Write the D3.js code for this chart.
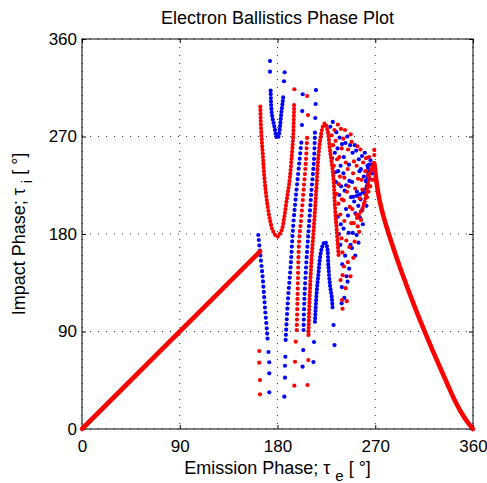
<!DOCTYPE html>
<html>
<head>
<meta charset="utf-8">
<script src="https://cdn.jsdelivr.net/npm/d3@7"></script>
<style>
  body { margin: 0; background: #fff; }
  text { font-family: "Liberation Sans", Arial, Helvetica, sans-serif; }
</style>
</head>
<body>
<div id="vis"></div>
<script>
// tick values (degrees) on both axes
let ticks = [0, 90, 180, 270, 360]

// dense red runs: [emission phase, impact phase]
let redRamp = [[0, 0], [164, 164]]
let redTail = [[269.1, 245.3], [270.3, 234.5], [271.8, 223.5], [274, 211], [277, 198.5], [282, 181.5],
  [288.2, 162.5], [294.3, 145], [300.4, 128.3], [306.6, 112], [312.8, 96.5], [318.8, 82],
  [325, 67.5], [331.2, 53.3], [337.3, 39.5], [343.4, 26], [349.6, 14.5], [355, 6.3], [360, 0]]

// red branches
let redU = [[164.2, 297.5], [164.5, 285], [165.2, 271.4], [166.1, 258.2], [166.8, 248.3], [167.4, 239.1],
  [168.4, 226.8], [170.1, 211.4], [173.1, 192.9], [176.1, 182.1], [179.8, 177.5], [183.9, 183.7],
  [186.3, 196], [188.5, 211.4], [190.1, 222], [191.5, 232.9], [193.1, 251.4], [194, 263.7],
  [194.6, 273], [194.9, 283.7], [195.2, 293.8], [195.3, 300]]
let redR2 = [[197.7, 91.4], [198.4, 119.1], [199.8, 171.7], [202.1, 197.5], [204.4, 225.2], [206.2, 248.3], [207.4, 271.4]]
let redLambda = [[208.5, 86.8], [209.5, 119.1], [211.3, 156], [213.6, 188.3], [215.7, 220.6], [217.6, 251.1],
  [219.6, 268.6], [221.9, 279.7], [223.7, 282.2], [226, 276], [228.3, 257.5], [231.4, 232.9],
  [232.9, 205.2], [234.5, 183.7], [236.2, 160.6]]
let redHook = [[253.2, 194.8], [259, 205.2], [261.5, 216], [263.6, 226.8], [265.2, 237.5], [267.5, 242.8], [269.1, 245.3]]

// blue branches
let blueB1 = [[162.3, 179.1], [163.9, 163.7], [166.4, 139.1], [168.5, 111.4], [170.6, 86.8], [170.9, 82.1]]
let blueU = [[173.7, 312.3], [174, 302.1], [174.9, 289.8], [176.8, 280.6], [178.6, 271.4], [179.8, 268.3],
  [181.1, 270.5], [182.3, 279], [183.5, 291.4], [184.8, 302.1], [185.3, 306.7]]
let blueB2 = [[187.5, 82.2], [189.6, 119.1], [192.2, 151.4], [194.5, 188.3], [197.5, 220.6], [200.3, 248.3], [202.3, 268.3]]
let blueB3 = [[204, 91.4], [204.7, 119.1], [206.7, 156], [209, 188.3], [211.3, 220.6], [213.6, 248.3], [214.5, 274.4]]
let blueLambda = [[214.5, 99], [216.1, 126.7], [217.6, 142.2], [219.1, 157.6], [221.2, 168.3], [223.7, 172.9],
  [225.9, 166.8], [226.8, 151.4], [228.3, 132.9], [229.9, 122.1], [230.8, 109.8]]
let blueHook = [[249.8, 214.4], [253.7, 215.5], [257.5, 217.6], [260.1, 220.2], [262.1, 223.7], [263.1, 232.6],
  [263.6, 242.1], [265.2, 245.3], [267, 242.8]]

// isolated red dots: branch ends, then the scattered region
let redDots = [[163.2, 72], [163.2, 61.2], [163.9, 45.2], [163.9, 32], [195.5, 313.6],
  [196.8, 80.6], [196.1, 62.1], [195.5, 40], [208.1, 289.8], [207.3, 307.4],
  [208.4, 63.7], [207.6, 40.6], [238, 137.5], [239.4, 119.1], [269.1, 257.6], [269.1, 252.9],
  [229.8, 271], [231.2, 262], [232.4, 276], [231.9, 243],
  [233.5, 266], [234.9, 249], [235.6, 281], [234.4, 217], [236.1, 208], [236.4, 226],
  [237, 251], [237.5, 233], [238.4, 277], [237.8, 198], [239.1, 259], [239.3, 212], [238.9, 176], [239.8, 163], [240, 142], [239.9, 111],
  [240.6, 268], [241.5, 232], [242.2, 276], [242.9, 246], [240.9, 211], [241.6, 192], [243.4, 174], [241.2, 150], [242.7, 130], [243.8, 118], [243.9, 219],
  [245, 258], [244.6, 240], [247.4, 272], [245.3, 224], [246.6, 205], [247.9, 190], [246.1, 168], [244.8, 154], [247.2, 141],
  [248.3, 265], [250.4, 247], [249.6, 236], [251.5, 222], [248.9, 203], [250.2, 190], [251, 173], [249.8, 158],
  [253.6, 261], [252.8, 243], [254.2, 231], [255.7, 213], [252.6, 198], [253.9, 187], [255.2, 182],
  [256.4, 258], [258.9, 246], [257.3, 230], [258.2, 221], [259.7, 208], [256.9, 193],
  [261.6, 250], [260.9, 238], [263.5, 234], [262.4, 214], [263.8, 219],
  [264.3, 251], [266.2, 239], [265.4, 224], [267.6, 230]]

// isolated blue dots: branch ends, then the scattered region
let blueDots = [[171.7, 71.1], [172.4, 61.6], [172.4, 51.4], [172.4, 33.9],
  [173.1, 339.7], [173.1, 329.8], [186, 321], [186.6, 329.3],
  [186.3, 29.8], [186.9, 47.4], [186.9, 58.4], [187.2, 66.7], [202.5, 280.6], [202.8, 293.5], [203.2, 309],
  [203.1, 57.5], [203.7, 72.9], [214.8, 287.1], [215.1, 300], [215.4, 312.9],
  [213.6, 80.3], [213.1, 61.8], [231.6, 96], [232.5, 77.5],
  [228.6, 279], [230.9, 283.5], [230.2, 250], [232.8, 255], [233.1, 237],
  [234.2, 274], [233.8, 228], [235.3, 259], [235.8, 238], [235.5, 196], [236.6, 180],
  [237.2, 269], [238.1, 243], [236.9, 216], [238.6, 224], [238.3, 189], [239.4, 263], [237.9, 170], [239.6, 152], [239.2, 131], [239, 116],
  [241.1, 251], [240.7, 236], [242.6, 264], [241.8, 220], [243.1, 203], [240.8, 185], [242.3, 160], [243.6, 141], [241.5, 121], [243.2, 225],
  [244.3, 270], [245.8, 244], [246.9, 262], [246.2, 229], [247.7, 214], [244.9, 197], [245.6, 181], [247.3, 170], [246, 148], [244.5, 136],
  [249.1, 255], [251.2, 262], [248.7, 228], [250.6, 210], [251.8, 199], [249.3, 181], [248.5, 167], [251.6, 160],
  [252.4, 257], [254.9, 249], [255.5, 238], [253.1, 219], [254.4, 206], [255.9, 195], [252.9, 179], [254.6, 172],
  [257.8, 252], [256.8, 240], [259.5, 233], [256.5, 212], [257.9, 202], [258.6, 189],
  [260.4, 255], [262.8, 243], [261.3, 229], [260.7, 217], [261.9, 206],
  [265.6, 248], [264.7, 231], [267, 236]]

// steep branches show separate dots, the turning parts are packed
let sparseRed = [redR2]
let denseRed = [redU, redLambda, redHook]
let sparseBlue = [blueB1, blueB2, blueB3]
let denseBlue = [blueU, blueLambda, blueHook]

let margin = {
    top: 39,
    left: 82,
    right: 14,
    bottom: 54
  },
  width = 487 - margin.left - margin.right,
  height = 483 - margin.top - margin.bottom;

let svg = d3.select('#vis')
  .append('svg')
  .attr('width', 487)
  .attr('height', 483)
  .style('background-color', 'white')

let g = svg.append('g')
  .attr('transform', `translate(${margin.left},${margin.top})`)

let x = d3.scaleLinear().domain([0, 360]).range([0, width])
let y = d3.scaleLinear().domain([0, 360]).range([height, 0])

// dotted grid
g.append('g').selectAll('line').data(ticks).join('line')
  .attr('x1', d => x(d)).attr('x2', d => x(d))
  .attr('y1', 0).attr('y2', height)
  .attr('stroke', '#000').attr('stroke-width', 0.8).attr('stroke-dasharray', '1,7')
g.append('g').selectAll('line').data(ticks).join('line')
  .attr('y1', d => y(d)).attr('y2', d => y(d))
  .attr('x1', 0).attr('x2', width)
  .attr('stroke', '#000').attr('stroke-width', 0.8).attr('stroke-dasharray', '1,7')

// axes, ticks pointing inward
function styleAxis(sel) {
  sel.select('.domain').remove()
  sel.attr('font-size', 17).attr('font-family', '"Liberation Sans", Arial, Helvetica, sans-serif')
  sel.selectAll('text').attr('fill', '#000')
}
g.append('g').attr('transform', `translate(0,${height})`)
  .call(d3.axisBottom(x).tickValues(ticks).tickSize(-4).tickSizeOuter(0).tickPadding(11))
  .call(styleAxis)
g.append('g')
  .call(d3.axisLeft(y).tickValues(ticks).tickSize(-4).tickSizeOuter(0).tickPadding(5))
  .call(styleAxis)
g.append('g')
  .call(d3.axisTop(x).tickValues(ticks).tickSize(-4).tickSizeOuter(0).tickFormat(''))
  .call(styleAxis)
g.append('g').attr('transform', `translate(${width},0)`)
  .call(d3.axisRight(y).tickValues(ticks).tickSize(-4).tickSizeOuter(0).tickFormat(''))
  .call(styleAxis)

g.append('rect')
  .attr('width', width).attr('height', height)
  .attr('fill', 'none').attr('stroke', '#000').attr('stroke-width', 1)

let line = d3.line()
  .x(d => x(d[0]))
  .y(d => y(d[1]))
  .curve(d3.curveCatmullRom.alpha(0.5))

let tailLine = d3.line()
  .x(d => x(d[0]))
  .y(d => y(d[1]))
  .curve(d3.curveMonotoneX)

function chains(data, color, gap) {
  g.append('g').selectAll('path').data(data).join('path')
    .attr('d', line)
    .attr('fill', 'none').attr('stroke', color).attr('stroke-width', 4.2)
    .attr('stroke-linecap', 'round').attr('stroke-dasharray', '0 ' + gap)
}
function dots(data, color) {
  g.append('g').selectAll('circle').data(data).join('circle')
    .attr('cx', d => x(d[0])).attr('cy', d => y(d[1])).attr('r', 2.1)
    .attr('fill', color)
}

// blue series
chains(sparseBlue, '#0000ff', 5.2)
chains(denseBlue, '#0000ff', 3.6)
dots(blueDots, '#0000ff')

// red series
chains(sparseRed, '#ff0000', 5.2)
chains(denseRed, '#ff0000', 3.6)
dots(redDots, '#ff0000')
g.append('path').datum(redRamp)
  .attr('d', line)
  .attr('fill', 'none').attr('stroke', '#ff0000').attr('stroke-width', 4.6)
  .attr('stroke-linecap', 'round')
g.append('path').datum(redTail)
  .attr('d', tailLine)
  .attr('fill', 'none').attr('stroke', '#ff0000').attr('stroke-width', 4.6)
  .attr('stroke-linecap', 'round').attr('stroke-linejoin', 'round')

// title and labels
svg.append('text')
  .attr('x', margin.left + width / 2).attr('y', 24)
  .attr('text-anchor', 'middle').attr('font-size', 18)
  .text('Electron Ballistics Phase Plot')

let xl = svg.append('text')
  .attr('x', margin.left + width / 2).attr('y', 474)
  .attr('text-anchor', 'middle').attr('font-size', 18)
xl.append('tspan').text('Emission Phase; τ ')
xl.append('tspan').attr('dy', 7).attr('font-size', 15).text('e')
xl.append('tspan').attr('dy', -7).text(' [ °]')

let yl = svg.append('text')
  .attr('transform', `translate(25,${margin.top + height / 2}) rotate(-90)`)
  .attr('text-anchor', 'middle').attr('font-size', 18)
yl.append('tspan').text('Impact Phase; τ ')
yl.append('tspan').attr('dy', 7).attr('font-size', 15).text('i')
yl.append('tspan').attr('dy', -7).text(' [ °]')
</script>
</body>
</html>
